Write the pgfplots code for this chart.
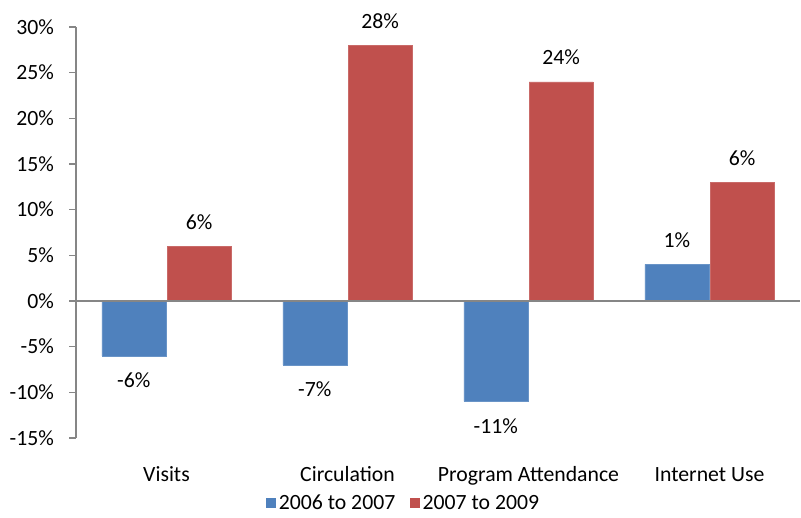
\documentclass[border=0pt]{standalone}
\usepackage{fontspec}
\setmainfont{Carlito}
\usepackage{pgfplots}
\usepackage{pgfplotstable}
\usetikzlibrary{calc}
\pgfplotsset{compat=1.18}
\definecolor{cblue}{HTML}{4F81BD}
\definecolor{cred}{HTML}{C0504D}
\definecolor{axgray}{HTML}{868686}
\pgfplotstableread{
x a al b bl
0 -6 -6 6 6
1 -7 -7 28 28
2 -11 -11 24 24
3 4 1 13 6
}\datatab
\newcommand{\fs}{\fontsize{16.3}{19}\selectfont}
\begin{document}
\begin{tikzpicture}
\begin{axis}[
  scale only axis,
  width=543pt, height=308.25pt,
  xmin=-0.5, xmax=3.5,
  ymin=-15, ymax=30,
  axis y line=left,
  axis x line=bottom,
  x axis line style={draw=none},
  y axis line style={draw=axgray, line width=0.9pt, -},
  xtick={0,1,2,3},
  xticklabels={Visits,Circulation,Program Attendance,Internet Use},
  xtick style={draw=none},
  xticklabel style={anchor=base, yshift=-28pt},
  ytick={-15,-10,...,30},
  yticklabels={-15\%,-10\%,-5\%,0\%,5\%,10\%,15\%,20\%,25\%,30\%},
  ytick style={draw=axgray, line width=0.9pt},
  tick align=outside,
  major tick length=5pt,
  yticklabel style={xshift=-8pt},
  tick label style={font=\fs, text=black},
  ybar, bar width=48pt,
  clip=false,
  point meta=explicit symbolic,
  visualization depends on={rawy \as \rawy},
  nodes near coords={\pgfplotspointmeta\%},
  every node near coord/.append style={font=\fs, text=black, inner ysep=2pt,
    anchor=\ifdim\rawy pt<0pt north\else south\fi,
    yshift=\ifdim\rawy pt<0pt -10.5pt\else 10.5pt\fi},
  legend style={draw=none, at={(0.453,-0.159)}, anchor=center, font=\fs, legend columns=2,
    /tikz/every even column/.append style={column sep=9pt},
    /tikz/every odd column/.append style={column sep=0pt}},
  legend image code/.code={\draw[#1, draw=none] (0pt,-3.75pt) rectangle (7.5pt,3.75pt);},
]
\addplot[fill=cblue, draw=cblue!85!white, bar shift=-24.5pt] table[x=x,y=a,meta=al]{\datatab};
\addplot[fill=cred, draw=cred!85!white, bar shift=24.5pt] table[x=x,y=b,meta=bl]{\datatab};
\legend{2006 to 2007, 2007 to 2009}
\draw[axgray, line width=0.9pt] (axis cs:-0.5,0) -- (axis cs:3.5,0);
\end{axis}
\path[use as bounding box] ($(current axis.south west)+(-57pt,-54.75pt)$) rectangle ($(current axis.north east)+(0.75pt,20.25pt)$);
\end{tikzpicture}
\end{document}
